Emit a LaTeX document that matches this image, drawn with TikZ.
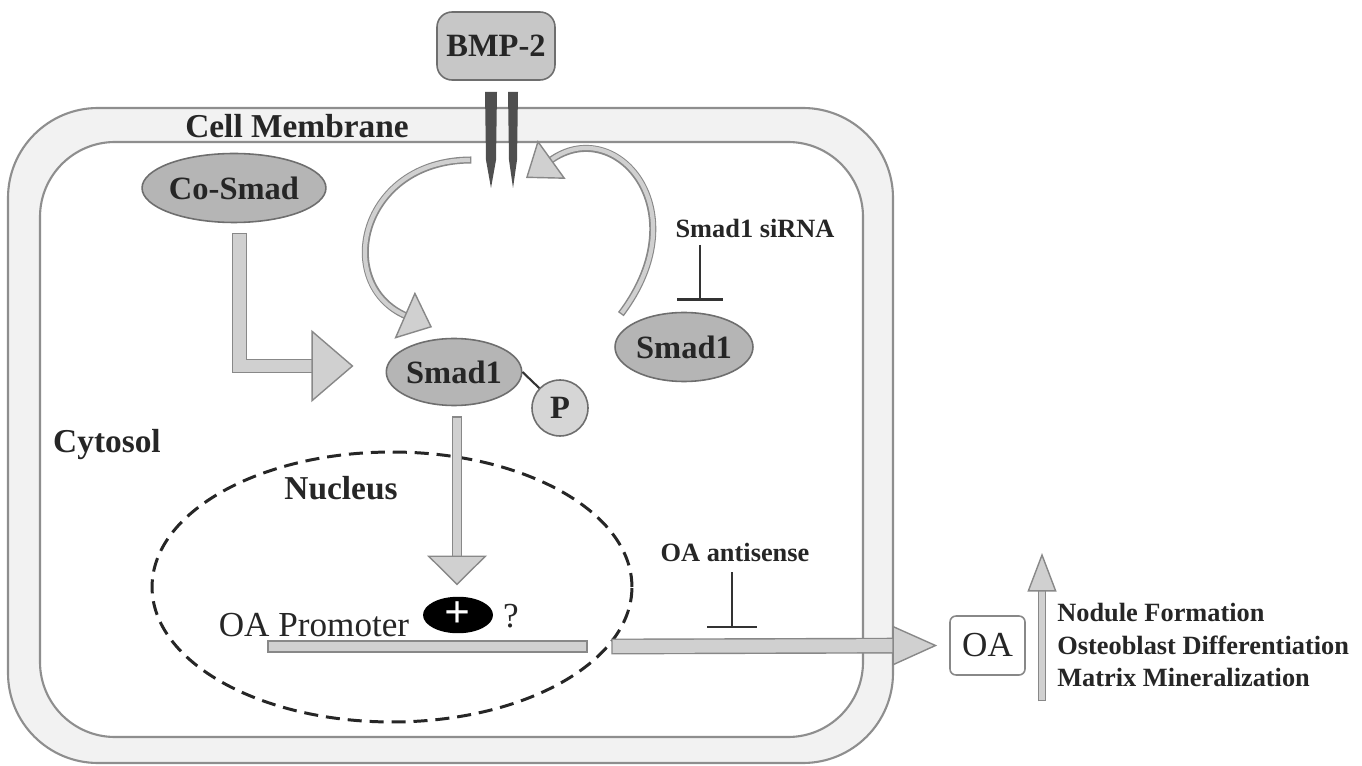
\documentclass[tikz,border=0pt]{standalone}
\usepackage{fontspec}
\setmainfont{Liberation Serif}
\usetikzlibrary{shapes.geometric,arrows.meta}

\definecolor{memFill}{HTML}{F2F2F2}
\definecolor{memLine}{HTML}{8E8E8E}
\definecolor{protFill}{HTML}{B5B5B5}
\definecolor{protLine}{HTML}{6E6E6E}
\definecolor{arrFill}{HTML}{D0D0D0}
\definecolor{arrLine}{HTML}{888888}
\definecolor{recFill}{HTML}{4F4F4F}

\tikzstyle{protNode} = [ellipse, draw=protLine, fill=protFill, line width=0.9pt, inner sep=0pt, text=black!85, font=\bfseries\fontsize{18.5}{20}\selectfont]
\tikzstyle{boxNode} = [rectangle, rounded corners=0.3cm, draw=protLine, fill=protFill!75!white, line width=0.9pt, text=black!85]
\tikzstyle{lblNode} = [inner sep=0pt, text=black!85, font=\bfseries\fontsize{19}{21}\selectfont]
\tikzstyle{smallLbl} = [inner sep=0pt, text=black!85, font=\bfseries\fontsize{15}{18.7}\selectfont]
\tikzstyle{plainLbl} = [inner sep=0pt, text=black!85, font=\fontsize{20}{22}\selectfont]
\tikzstyle{inhib} = [line width=1.3pt, draw=black!80]
\tikzset{
  fatArrow/.style n args={3}{line width=#1, draw=arrFill, line join=miter,
    -{Triangle[length=#2, width=#3, line width=0.8pt, color=arrLine, fill=arrFill]},
    preaction={draw=arrLine, line width=#1+1.6pt, -, shorten >=#2-1pt, shorten <=-0.8pt}}
}

\begin{document}
\begin{tikzpicture}[x=0.02cm, y=0.02cm]
    \useasboundingbox (0,0) rectangle (1362,-766);

    % cell and membrane
    \draw[memLine, fill=memFill, line width=1.2pt, rounded corners=1.8cm] (8,-108) rectangle (893,-763);
    \draw[memLine, fill=white, line width=1.2pt, rounded corners=1.5cm] (40,-142) rectangle (863,-737);
    \node (membrane)[lblNode] at (297,-126) {Cell Membrane};
    \node (cytosol)[lblNode] at (107,-445) {Cytosol};

    % nucleus
    \draw[black!85, line width=1.7pt, dash pattern=on 8pt off 4.5pt] (392,-587) ellipse [x radius=4.8cm, y radius=2.7cm];
    \node (nucleus)[lblNode] at (341,-488) {Nucleus};

    % receptor
    \fill[recFill] (485,-92) -- (497,-92) -- (496,-160) -- (491,-188) -- (486,-160) -- cycle;
    \fill[recFill] (508,-92) -- (518,-92) -- (517,-160) -- (513,-188) -- (509,-160) -- cycle;
    \coordinate (recOut) at (470,-160);
    \coordinate (recIn) at (526,-178);

    \node (bmp)[boxNode, minimum width=2.36cm, minimum height=1.36cm, font=\bfseries\fontsize{18.5}{20}\selectfont] at (496,-46) {BMP-2};
    \node (cosmad)[protNode, minimum width=3.16cm, minimum height=1.38cm] at (234,-188) {Co-Smad};
    \node (smadc)[protNode, minimum width=2.7cm, minimum height=1.34cm] at (454,-372) {Smad1};
    \node (pNode)[circle, draw=protLine, fill=protFill!55!white, line width=0.9pt, minimum size=1.12cm, inner sep=0pt, text=black!85, font=\bfseries\fontsize{18.5}{20}\selectfont] at (560,-408) {P};
    \node (smadr)[protNode, minimum width=2.76cm, minimum height=1.38cm] at (684,-347) {Smad1};
    \node (sirna)[smallLbl] at (755,-228) {Smad1 siRNA};
    \node (antisense)[smallLbl] at (735,-552) {OA antisense};

    \node (promoter)[plainLbl] at (314,-625) {OA Promoter};
    \node (plus)[ellipse, fill=black, text=white, minimum width=1.4cm, minimum height=0.68cm, inner sep=0pt, font=\bfseries\fontsize{26}{26}\selectfont] at (458,-615) {+};
    \node (question)[plainLbl] at (511,-616) {?};
    \node (promBar)[rectangle, draw=arrLine, fill=arrFill, line width=0.8pt, minimum width=6.38cm, minimum height=0.22cm, inner sep=0pt] at (427.5,-646.5) {};
    \node (oaBox)[rectangle, rounded corners=0.12cm, draw=arrLine, fill=white, line width=0.9pt, minimum width=1.5cm, minimum height=1.18cm, text=black!85, font=\fontsize{20}{22}\selectfont] at (987.5,-645.5) {OA};
    \node (effects)[smallLbl, anchor=west, align=left] at (1057,-645) {Nodule Formation\\Osteoblast Differentiation\\Matrix Mineralization};
    \coordinate (upLow) at (1042,-700);
    \coordinate (upHigh) at (1042,-553);

    % arrows
    \draw[fatArrow={6.9pt}{24pt}{41pt}] ([shift={(5.5,-11)}]cosmad.south) |- ([shift={(-32,6)}]smadc.west);
    \draw[fatArrow={4.1pt}{17pt}{34pt}] ([shift={(3,-11.5)}]smadc.south) -- ([shift={(-1,11)}]plus.north);
    \draw[fatArrow={7.4pt}{25.5pt}{22.7pt}] ([xshift=0.5cm]promBar.east) -- ([xshift=-0.24cm]oaBox.west);
    \draw[fatArrow={3.4pt}{22pt}{16.5pt}] (upLow) -- (upHigh);
    \draw[fatArrow={2.4pt}{17pt}{29pt}] (recOut) .. controls (360,-160) and (333,-284) .. ([shift={(-22,10.5)}]smadc.north);
    \draw[fatArrow={2.4pt}{18pt}{27pt}] ([shift={(-13,9)}]smadr.north west) .. controls (700,-209) and (615,-114) .. (recIn);

    \draw[line width=1.2pt, black!80] (smadc.east) -- (pNode);
    \draw[inhib, -{Bar[width=26pt]}] ([shift={(-55,-17)}]sirna.center) -- ([shift={(16,11)}]smadr.north);
    \draw[inhib, -{Bar[width=28pt]}] ([shift={(-3,-20)}]antisense.center) -- ([shift={(-3,-76)}]antisense.center);

\end{tikzpicture}
\end{document}
